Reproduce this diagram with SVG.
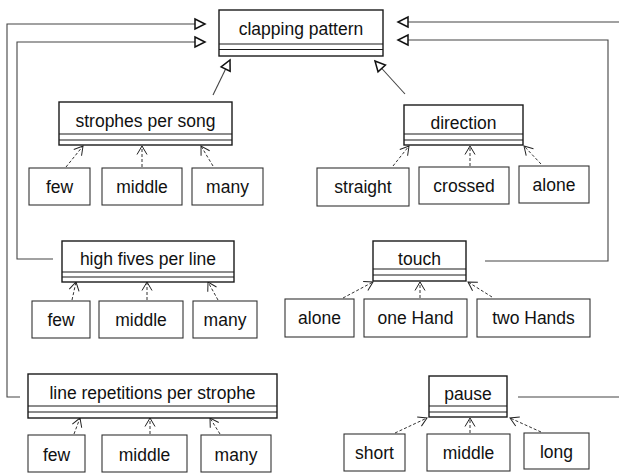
<svg xmlns="http://www.w3.org/2000/svg" width="619" height="474" viewBox="0 0 619 474">
<style>
  .cls rect { fill: #fff; stroke: #1a1a1a; stroke-width: 1.4; }
  .cls line { stroke: #1a1a1a; stroke-width: 1.2; }
  .leaf rect { fill: #fff; stroke: #333; stroke-width: 1.1; }
  text { font-family: "Liberation Sans", Arial, sans-serif; font-size: 17.5px; fill: #111; text-anchor: middle; }
  .gen { fill: none; stroke: #444; stroke-width: 1.1; }
  .dep { fill: none; stroke: #333; stroke-width: 1; stroke-dasharray: 3,2; }
</style>
<defs>
  <marker id="tri" markerUnits="userSpaceOnUse" markerWidth="14" markerHeight="14" viewBox="0 0 14 14" refX="12" refY="7" orient="auto">
    <path d="M2,2 L12,7 L2,12 Z" fill="#fff" stroke="#111" stroke-width="1.5"/>
  </marker>
  <marker id="vee" markerUnits="userSpaceOnUse" markerWidth="12" markerHeight="12" viewBox="0 0 12 12" refX="10" refY="6" orient="auto">
    <path d="M1.5,1 L10,6 L1.5,11" fill="none" stroke="#222" stroke-width="1"/>
  </marker>
</defs>

<g id="connectors">
  <path class="gen" d="M20,397 H7 V24 H205" marker-end="url(#tri)"/>
  <path class="gen" d="M53,259 H17 V42 H205" marker-end="url(#tri)"/>
  <path class="gen" d="M485,261 H608 V40 H398" marker-end="url(#tri)"/>
  <path class="gen" d="M518,397 H625 V22 H398" marker-end="url(#tri)"/>
  <path class="gen" d="M213,95 L230,60" marker-end="url(#tri)"/>
  <path class="gen" d="M405,94 L375,61" marker-end="url(#tri)"/>

  <path class="dep" d="M66,167 L83,146" marker-end="url(#vee)"/>
  <path class="dep" d="M142,167 L142,146" marker-end="url(#vee)"/>
  <path class="dep" d="M213,166 L201,146" marker-end="url(#vee)"/>

  <path class="dep" d="M393,166 L409,146" marker-end="url(#vee)"/>
  <path class="dep" d="M470,166 L470,146" marker-end="url(#vee)"/>
  <path class="dep" d="M541,164 L524,146" marker-end="url(#vee)"/>

  <path class="dep" d="M72,300 L76,282" marker-end="url(#vee)"/>
  <path class="dep" d="M147,300 L147,282" marker-end="url(#vee)"/>
  <path class="dep" d="M218,300 L208,282" marker-end="url(#vee)"/>

  <path class="dep" d="M343,298 L373,282" marker-end="url(#vee)"/>
  <path class="dep" d="M420,298 L420,282" marker-end="url(#vee)"/>
  <path class="dep" d="M492,297 L468,282" marker-end="url(#vee)"/>

  <path class="dep" d="M74,434 L80,418" marker-end="url(#vee)"/>
  <path class="dep" d="M150,434 L150,418" marker-end="url(#vee)"/>
  <path class="dep" d="M220,434 L210,418" marker-end="url(#vee)"/>

  <path class="dep" d="M395,433 L427,418" marker-end="url(#vee)"/>
  <path class="dep" d="M470,433 L470,418" marker-end="url(#vee)"/>
  <path class="dep" d="M541,432 L510,418" marker-end="url(#vee)"/>
</g>

<g id="clapping-pattern" class="cls">
  <rect x="219" y="10" width="164" height="46"/>
  <line x1="219" y1="44" x2="383" y2="44"/><line x1="219" y1="49.5" x2="383" y2="49.5"/>
  <text x="301" y="35">clapping pattern</text>
</g>

<g id="strophes-per-song" class="cls">
  <rect x="59" y="102" width="173" height="43"/>
  <line x1="59" y1="134" x2="232" y2="134"/><line x1="59" y1="140" x2="232" y2="140"/>
  <text x="145.5" y="127">strophes per song</text>
</g>
<g id="sps-few" class="leaf"><rect x="29" y="168" width="61" height="37"/><text x="59.5" y="193">few</text></g>
<g id="sps-middle" class="leaf"><rect x="102" y="168" width="80" height="37"/><text x="142" y="193">middle</text></g>
<g id="sps-many" class="leaf"><rect x="192" y="168" width="71" height="37"/><text x="227.5" y="193">many</text></g>

<g id="direction" class="cls">
  <rect x="404" y="105" width="119" height="40"/>
  <line x1="404" y1="134" x2="523" y2="134"/><line x1="404" y1="140" x2="523" y2="140"/>
  <text x="463.5" y="129">direction</text>
</g>
<g id="dir-straight" class="leaf"><rect x="317" y="168" width="92" height="38"/><text x="363" y="193">straight</text></g>
<g id="dir-crossed" class="leaf"><rect x="419" y="167" width="90" height="37"/><text x="464" y="192">crossed</text></g>
<g id="dir-alone" class="leaf"><rect x="519" y="166" width="70" height="37"/><text x="554" y="191">alone</text></g>

<g id="high-fives-per-line" class="cls">
  <rect x="62" y="241" width="172" height="41"/>
  <line x1="62" y1="272" x2="234" y2="272"/><line x1="62" y1="277" x2="234" y2="277"/>
  <text x="148" y="265">high fives per line</text>
</g>
<g id="hf-few" class="leaf"><rect x="32" y="301" width="58" height="37"/><text x="61" y="326">few</text></g>
<g id="hf-middle" class="leaf"><rect x="99" y="301" width="84" height="37"/><text x="141" y="326">middle</text></g>
<g id="hf-many" class="leaf"><rect x="193" y="301" width="64" height="37"/><text x="225" y="326">many</text></g>

<g id="touch" class="cls">
  <rect x="373" y="241" width="93" height="40"/>
  <line x1="373" y1="269" x2="466" y2="269"/><line x1="373" y1="275" x2="466" y2="275"/>
  <text x="419.5" y="265">touch</text>
</g>
<g id="t-alone" class="leaf"><rect x="285" y="299" width="69" height="38"/><text x="319.5" y="324">alone</text></g>
<g id="t-onehand" class="leaf"><rect x="364" y="299" width="103" height="38"/><text x="415.5" y="324">one Hand</text></g>
<g id="t-twohands" class="leaf"><rect x="477" y="299" width="113" height="38"/><text x="533.5" y="324">two Hands</text></g>

<g id="line-repetitions-per-strophe" class="cls">
  <rect x="28" y="374" width="249" height="44"/>
  <line x1="28" y1="406" x2="277" y2="406"/><line x1="28" y1="412" x2="277" y2="412"/>
  <text x="152.5" y="399">line repetitions per strophe</text>
</g>
<g id="lr-few" class="leaf"><rect x="28" y="435" width="57" height="37"/><text x="56.5" y="461">few</text></g>
<g id="lr-middle" class="leaf"><rect x="102" y="435" width="85" height="37"/><text x="144.5" y="461">middle</text></g>
<g id="lr-many" class="leaf"><rect x="201" y="435" width="70" height="37"/><text x="236" y="461">many</text></g>

<g id="pause" class="cls">
  <rect x="429" y="376" width="78" height="41"/>
  <line x1="429" y1="406" x2="507" y2="406"/><line x1="429" y1="412" x2="507" y2="412"/>
  <text x="468" y="400">pause</text>
</g>
<g id="p-short" class="leaf"><rect x="344" y="434" width="61" height="37"/><text x="374.5" y="459">short</text></g>
<g id="p-middle" class="leaf"><rect x="427" y="434" width="83" height="37"/><text x="468.5" y="459">middle</text></g>
<g id="p-long" class="leaf"><rect x="524" y="433" width="65" height="36"/><text x="556.5" y="458">long</text></g>
</svg>
